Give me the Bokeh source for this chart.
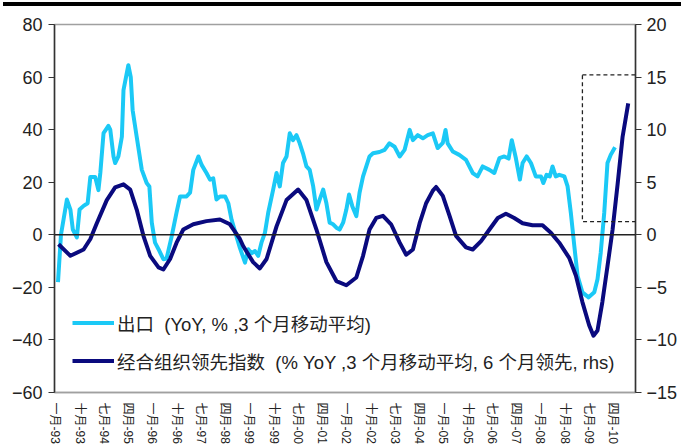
import math
from bokeh.plotting import figure
from bokeh.layouts import column
from bokeh.models import Range1d, LinearAxis, FixedTicker, Span, BoxAnnotation, Legend, LegendItem, Div
from bokeh.embed import file_html
from bokeh.resources import INLINE

# ---- data (x = months since Jan 1993) ----
tick_months = [0, 9, 18, 27, 36, 45, 54, 63, 72, 81, 90, 99, 108, 117, 126, 135,
               144, 153, 162, 171, 180, 189, 198, 207]
tick_labels = ["一月-93", "十月-93", "七月-94", "四月-95", "一月-96", "十月-96", "七月-97", "四月-98",
               "一月-99", "十月-99", "七月-00", "四月-01", "一月-02", "十月-02", "七月-03", "四月-04",
               "一月-05", "十月-05", "七月-06", "四月-07", "一月-08", "十月-08", "七月-09", "四月-10"]

export_m = [1.0, 2.1, 4.3, 5.6, 6.5, 8.0, 9.0, 10.5, 12.0, 13.0, 14.8, 16.0, 16.7, 17.9, 19.7, 20.4,
            21.6, 22.2, 23.4, 24.7, 25.3, 27.1, 28.0, 28.7, 30.2, 32.1, 33.9, 34.9, 35.8, 37.0, 38.3,
            40.1, 41.3, 43.2, 45.0, 46.3, 48.7, 50.0, 51.2, 53.1, 54.3, 56.1, 57.4, 58.6, 59.8, 61.1,
            63.0, 64.2, 65.4, 67.2, 68.5, 70.4, 71.6, 72.8, 74.1, 75.3, 76.5, 77.8, 79.0, 80.8, 82.1,
            83.3, 84.5, 85.8, 87.0, 88.2, 89.5, 90.7, 91.9, 93.2, 94.4, 95.7, 96.9, 98.1, 99.4, 100.6,
            101.8, 103.1, 104.3, 105.5, 106.8, 108.0, 109.0, 110.2, 111.7, 112.9, 114.2, 115.4, 116.6,
            117.9, 120.3, 122.2, 124.0, 125.9, 127.8, 129.6, 131.5, 132.7, 134.5, 136.4, 138.2, 140.1,
            141.9, 143.8, 144.8, 145.6, 147.5, 149.9, 152.4, 154.9, 156.7, 158.6, 161.1, 162.9, 164.8,
            166.6, 168.2, 169.4, 170.9, 172.4, 173.4, 174.9, 176.5, 178.3, 180.2, 181.1, 182.3, 183.5,
            184.5, 185.7, 187.0, 188.9, 190.1, 191.3, 192.6, 193.8, 195.6, 197.9, 200.0, 201.2, 202.4,
            203.7, 204.9, 206.1, 207.7]
export_v = [-18, 0, 13.4, 9.6, 2, -1, 9.6, 11, 12, 22, 22, 17, 23.5, 38.7, 41.4, 40,
            29.8, 27.3, 29.8, 37.3, 55, 64.5, 60, 47.4, 37.3, 24.7, 19.7, 18.4, 4.6, -3, -5.5,
            -9.3, -9, -0.5, 8.5, 14.6, 14.6, 16, 24.7, 29.8, 26.6, 23.5, 21, 21.5, 13.4, 14.6,
            14.6, 12, 5.8, -0.5, -5, -10.6, -5.5, -7, -6.2, -8, -3, 0.8, 8.4, 17, 23.5,
            18.4, 27.3, 29.8, 38.6, 36, 37.9, 34.8, 31, 26, 24.7, 18.4, 9.6, 13.4, 17.2, 12,
            4.6, 4, 2.7, 2, 4.6, 9.6, 15.3, 10.9, 7.1, 16, 22.2, 26, 29.8,
            31, 31.5, 32.3, 34.8, 33.5, 29.8, 32.3, 39.9, 36, 37.9, 36.7, 37.9, 38.6,
            33, 35, 39.9, 34.8, 31.7, 30.4, 28.5, 23.5, 22.2, 26, 24.7, 23.5, 29.2,
            29.8, 29, 36, 29.2, 21, 27.3, 29.8, 27.3, 22.2, 22.2, 19.7, 22.8, 22.2,
            26, 22.2, 22.8, 22.2, 18.4, 8.4, -4.3, -15.6, -21.9, -23.8, -21.9, -16.9, -6.8,
            8.4, 27.3, 30.4, 33.3]

oecd_m = [1.2, 5.6, 10.5, 13.0, 15.4, 19.1, 22.2, 25.3, 27.8, 30.2, 32.7, 35.2, 38.3, 40.1, 42.6,
          45.0, 47.5, 51.2, 56.1, 61.1, 64.8, 68.5, 69.7, 73.4, 75.9, 78.4, 82.1, 85.8, 90.1, 93.2,
          96.9, 100.6, 104.3, 108.0, 111.7, 114.2, 116.6, 119.1, 121.6, 124.6, 127.8, 130.2, 132.7,
          135.2, 137.6, 140.1, 141.3, 143.8, 146.3, 148.7, 152.4, 154.9, 158.0, 161.1, 164.2, 167.2,
          170.3, 173.4, 177.1, 180.8, 183.9, 187.0, 190.7, 193.2, 195.6, 198.1, 199.7, 201.2, 203.0,
          204.9, 206.8, 208.7, 210.5, 212.6]
oecd_v = [-0.9, -2, -1.4, -0.4, 1.1, 3.3, 4.5, 4.8, 4.3, 2.4, -0.1, -2, -3.1, -3.3, -2.3,
          -0.75, 0.5, 1, 1.3, 1.45, 1, -0.4, -1.07, -2.6, -3.2, -2.3, 0.8, 3.3, 4.3, 3.3,
          0.5, -2.6, -4.4, -4.8, -4.06, -2, 0.5, 1.6, 1.8, 1, -0.75, -1.9, -1.4,
          1.1, 3, 4.2, 4.55, 3.7, 1.8, -0.1, -1.2, -1.4, -0.6, 0.5, 1.6, 2.0,
          1.6, 1.1, 0.9, 0.9, 0.2, -0.75, -2.2, -3.9, -6.4, -8.6, -9.6, -9.1, -6.4,
          -3, 0.5, 4.9, 9.3, 12.5]

box_x = [195.6, 218.6]
box_y_rhs = [1.25, 15.2]

series_names = ["出口  (YoY, % ,3 个月移动平均)",
                "经合组织领先指数  (% YoY ,3 个月移动平均, 6 个月领先, rhs)"]

CYAN = "#1BC9F6"
NAVY = "#0A0A7E"
FONT = "Liberation Sans, Noto Sans CJK SC"

TOP_BAR = 6

p = figure(width=681, height=446 - TOP_BAR, output_backend="svg", toolbar_location=None,
           x_range=Range1d(-0.3, 215.3), y_range=Range1d(-60, 80),
           min_border_left=54, min_border_right=46, min_border_top=24 - TOP_BAR,
           min_border_bottom=52)
p.extra_y_ranges = {"right": Range1d(-15, 20)}

p.xgrid.visible = False
p.ygrid.visible = False
p.outline_line_color = "#a0a0a0"
p.outline_line_width = 1.5
p.background_fill_color = "white"
p.border_fill_color = "white"

# left axis
ya = p.yaxis[0]
ya.ticker = FixedTicker(ticks=[-60, -40, -20, 0, 20, 40, 60, 80])
ya.axis_line_color = "#333333"
ya.axis_line_width = 1.5
ya.major_tick_line_color = "#333333"
ya.major_tick_in = 0
ya.major_tick_out = 6
ya.minor_tick_line_color = None
ya.major_label_text_font = FONT
ya.major_label_text_font_size = "18px"
ya.major_label_text_color = "#222222"
ya.major_label_standoff = 6

# right axis
ra = LinearAxis(y_range_name="right")
ra.ticker = FixedTicker(ticks=[-15, -10, -5, 0, 5, 10, 15, 20])
ra.axis_line_color = "#333333"
ra.axis_line_width = 1.5
ra.major_tick_line_color = "#333333"
ra.major_tick_in = 0
ra.major_tick_out = 6
ra.minor_tick_line_color = None
ra.major_label_text_font = FONT
ra.major_label_text_font_size = "18px"
ra.major_label_text_color = "#222222"
ra.major_label_standoff = 5
p.add_layout(ra, "right")

# x axis
xa = p.xaxis[0]
xa.ticker = FixedTicker(ticks=tick_months)
xa.major_label_overrides = {m: lab for m, lab in zip(tick_months, tick_labels)}
xa.major_label_orientation = -math.pi / 2
xa.axis_line_color = "#a0a0a0"
xa.axis_line_width = 1.5
xa.major_tick_line_color = None
xa.minor_tick_line_color = None
xa.major_label_text_font = FONT
xa.major_label_text_font_size = "12px"
xa.major_label_text_color = "#222222"
xa.major_label_standoff = 4

# zero line
p.add_layout(Span(location=0, dimension="width", line_color="#222222", line_width=1.5))

r1 = p.line(export_m, export_v, line_color=CYAN, line_width=4, line_join="round")
r2 = p.line(oecd_m, oecd_v, line_color=NAVY, line_width=4, line_join="round", y_range_name="right")

box = BoxAnnotation(left=box_x[0], right=box_x[1], bottom=box_y_rhs[0], top=box_y_rhs[1],
                    y_range_name="right", fill_alpha=0, line_color="#222222", line_alpha=1.0,
                    line_width=1.3, line_dash="4 3")
p.add_layout(box)

legend = Legend(items=[LegendItem(label=series_names[0], renderers=[r1]),
                       LegendItem(label=series_names[1], renderers=[r2])],
                location=(18, 18), orientation="vertical",
                glyph_width=42, glyph_height=27, label_height=27, label_standoff=3,
                spacing=11, padding=0, margin=0,
                border_line_alpha=0, background_fill_alpha=0,
                label_text_font=FONT, label_text_font_size="18.5px", label_text_color="#222222")
p.add_layout(legend)

bar = Div(text='<div style="position:absolute;left:3px;top:2px;width:678px;height:4px;background:#000;"></div>',
          width=681, height=TOP_BAR, margin=0)

layout = column(bar, p, spacing=0, margin=0)
open("out.html", "w").write(file_html(layout, INLINE))
